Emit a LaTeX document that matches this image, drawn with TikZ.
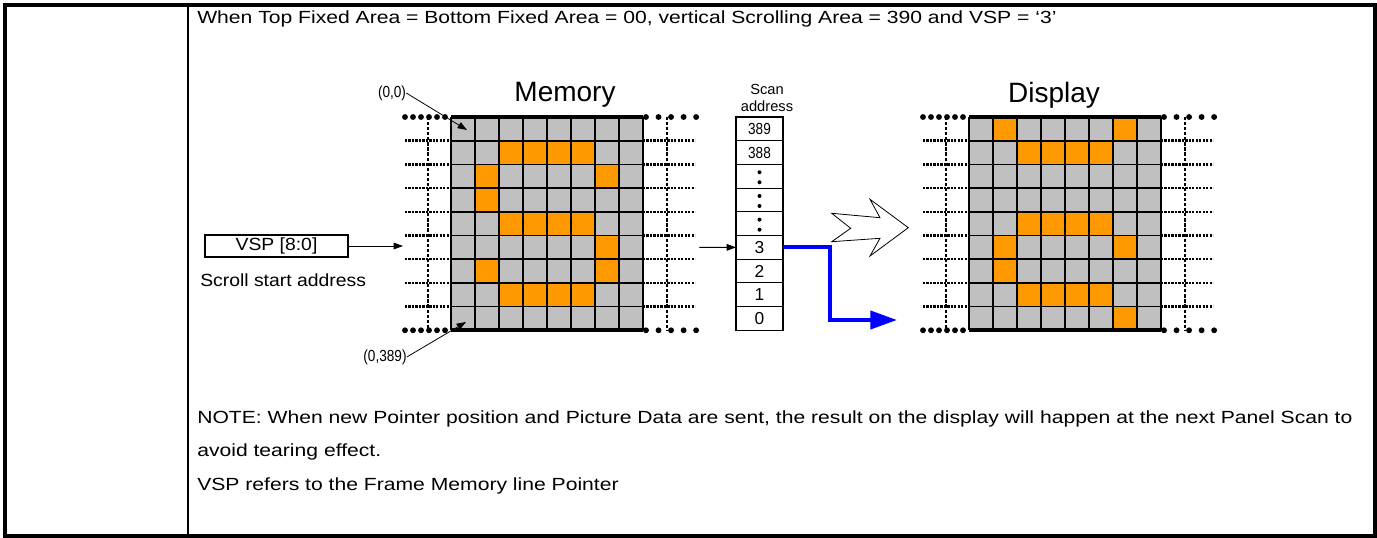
\documentclass[tikz,border=0pt]{standalone}
\usepackage{fontspec}
\setmainfont{Liberation Sans}
\newfontfamily\widefont{Liberation Sans}[FakeStretch=1.2]
\newfontfamily\vspfont{Liberation Sans}[FakeStretch=1.1]
\newfontfamily\narrowfont{Liberation Sans}[FakeStretch=0.85]
\usetikzlibrary{arrows.meta, positioning}

\definecolor{cellgray}{RGB}{192,192,192}
\definecolor{pixorange}{RGB}{255,153,0}
\definecolor{scanblue}{RGB}{0,0,255}

\begin{document}
\begin{tikzpicture}[x=0.75pt, y=-0.75pt, >={Triangle[length=7pt,width=5pt]}]
    % Styles
    \tikzstyle{tableline} = [line width=2.4pt]
    \tikzstyle{bodytext} = [inner sep=0pt, anchor=west, font=\widefont\fontsize{13.2}{16}\selectfont]
    \tikzstyle{gridline} = [line width=1.3pt]
    \tikzstyle{gridedge} = [line width=2.8pt]
    \tikzstyle{finedots} = [line width=1.9pt, dash pattern=on 1.7pt off 0.9pt]
    \tikzstyle{finedash} = [line width=1.6pt, dash pattern=on 2.4pt off 1.4pt]
    \tikzstyle{bigdots} = [line width=4.4pt, line cap=round, dash pattern=on 0pt off 6pt]
    \tikzstyle{bigdotsr} = [line width=4.4pt, line cap=round, dash pattern=on 0pt off 9.4pt]
    \tikzstyle{paneltitle} = [inner sep=0pt, font=\fontsize{21}{24}\selectfont]
    \tikzstyle{smalllabel} = [inner sep=0pt, font=\narrowfont\fontsize{12}{14}\selectfont]
    \tikzstyle{scancell} = [draw, line width=0.8pt, minimum width=35.25pt, minimum height=17.78pt, inner sep=0pt, outer sep=0pt, font=\fontsize{13}{15}\selectfont]
    \tikzstyle{pointer} = [->, line width=0.6pt]
    \tikzstyle{scanpath} = [-{Triangle[length=20pt,width=13.5pt]}, line width=3pt, draw=scanblue]

    \useasboundingbox (0,0) rectangle (1377,538);

    % Table
    \draw[tableline] (5,5) rectangle (1375,536);
    \draw[line width=1.6pt] (188,5) -- (188,536);

    % Texts
    \node[bodytext] (head) at (197,19) {When Top Fixed Area = Bottom Fixed Area = 00, vertical Scrolling Area = 390 and VSP = ‘3’};
    \node[bodytext] (note) at (197,419) {NOTE: When new Pointer position and Picture Data are sent, the result on the display will happen at the next Panel Scan to};
    \node[bodytext] (noteend) at (197,452) {avoid tearing effect.};
    \node[bodytext] (vspnote) at (197,486) {VSP refers to the Frame Memory line Pointer};

    % Memory and Display panels
    \foreach \gx in {451,969}
        \fill[cellgray] (\gx,117) rectangle ++(192,213.3);
    \foreach \r/\c in {1/2,1/3,1/4,1/5,2/1,2/6,3/1,4/2,4/3,4/4,4/5,5/6,6/1,6/6,7/2,7/3,7/4,7/5}
        \fill[pixorange] (451+\c*24,117+\r*23.7) rectangle ++(24,23.7);
    \foreach \r/\c in {0/1,0/6,1/2,1/3,1/4,1/5,4/2,4/3,4/4,4/5,5/1,5/6,6/1,7/2,7/3,7/4,7/5,8/6}
        \fill[pixorange] (969+\c*24,117+\r*23.7) rectangle ++(24,23.7);
    \foreach \gx in {451,969} {
        \foreach \c in {0,...,8}
            \draw[gridline] (\gx+\c*24,117) -- ++(0,213.3);
        \foreach \r in {1,...,8} {
            \draw[gridline] (\gx,117+\r*23.7) -- ++(192,0);
            \draw[finedots] (\gx-46,117+\r*23.7) -- (\gx,117+\r*23.7);
            \draw[finedots] (\gx+192,117+\r*23.7) -- ++(52,0);
        }
        \draw[finedash] (\gx-23,117) -- ++(0,213.3);
        \draw[finedash] (\gx+216,117) -- ++(0,213.3);
        \foreach \yy in {117,330.3} {
            \draw[bigdots] (\gx-46,\yy) -- (\gx-4,\yy);
            \draw[bigdotsr] (\gx+195,\yy) -- (\gx+245.5,\yy);
            \draw[gridedge] (\gx,\yy) -- ++(192,0);
        }
    }
    \node[paneltitle] (memtitle) at (565,95) {Memory};
    \node[paneltitle] (disptitle) at (1054,95) {Display};

    % Corner labels
    \node[smalllabel] (orig) at (392,93) {(0,0)};
    \node[smalllabel] (last) at (385,357) {(0,389)};
    \coordinate (origcell) at (467,130);
    \coordinate (lastcell) at (466,322);
    \draw[pointer] (orig.east) -- (origcell);
    \draw[pointer] (last.east) -- (lastcell);

    % Scan address column
    \node[inner sep=0pt, align=center, font=\fontsize{11}{13.3}\selectfont] (scanhead) at (767,98) {Scan\\address};
    \node[scancell, font=\narrowfont\fontsize{12}{14}\selectfont] (s0) at (759.5,128.85) {389};
    \node[scancell, font=\narrowfont\fontsize{12}{14}\selectfont, below=0pt of s0] (s1) {388};
    \node[scancell, below=0pt of s1] (s2) {};
    \node[scancell, below=0pt of s2] (s3) {};
    \node[scancell, below=0pt of s3] (s4) {};
    \node[scancell, below=0pt of s4] (s5) {3};
    \node[scancell, below=0pt of s5] (s6) {2};
    \node[scancell, below=0pt of s6] (s7) {1};
    \node[scancell, below=0pt of s7] (s8) {0};
    \foreach \i in {2,3,4} {
        \fill (s\i.center) ++(0,-4) circle (2);
        \fill (s\i.center) ++(0,6) circle (2);
    }

    % VSP pointer
    \node[draw, line width=0.8pt, minimum width=107.25pt, minimum height=16.5pt, inner sep=0pt, font=\vspfont\fontsize{13.2}{15}\selectfont] (vsp) at (276.5,246) {VSP [8:0]};
    \node[inner sep=0pt, anchor=west, font=\vspfont\fontsize{13.2}{15}\selectfont] (scrollstart) at (200,280) {Scroll start address};
    \coordinate (memin) at (403,246);
    \draw[pointer] (vsp) -- (memin);
    \coordinate (memout) at (699,247.35);
    \draw[pointer] (memout) -- (s5);

    % Scan to display
    \coordinate (dispin) at (897,320);
    \draw[scanpath] (s5.east) -- ++(47,0) |- (dispin);
    \draw[line width=0.6pt, fill=white] (831.7,213.3) -- (880,217.7) -- (870,199.3) -- (908.3,227.7) -- (870,256) -- (880,238.3) -- (831.7,241.7) -- (850.7,228.3) -- cycle;
\end{tikzpicture}
\end{document}
